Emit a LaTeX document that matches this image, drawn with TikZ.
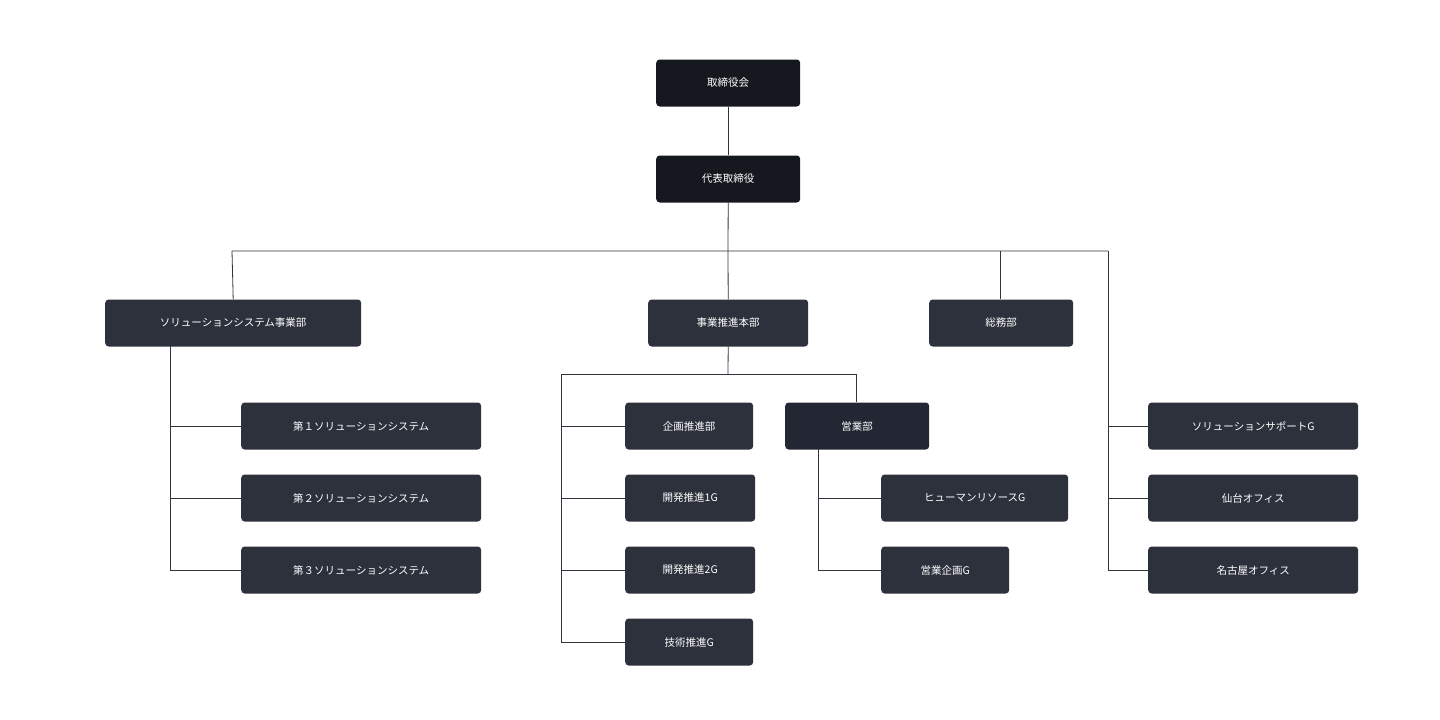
\documentclass[tikz,border=0pt]{standalone}
\usepackage{fontspec}
\setmainfont{Noto Sans CJK JP}
\definecolor{dk}{HTML}{16181F}
\definecolor{md}{HTML}{2C313C}
\definecolor{sd}{HTML}{222733}
\definecolor{ln}{HTML}{30343C}
\begin{document}
\begin{tikzpicture}[x=1pt,y=-1pt,
  box/.style={fill=md,rounded corners=3.5pt,text=white,font=\fontsize{10.5}{12}\selectfont,minimum height=47pt,inner sep=0pt,anchor=west},
  ln/.style={draw=ln,line width=0.8pt}]
\useasboundingbox (0,0) rectangle (1440,720);
\node[box,fill=dk,minimum width=144pt] (a) at (656,83) {取締役会};
\node[box,fill=dk,minimum width=144pt] (b) at (656,179) {代表取締役};
\node[box,minimum width=256pt] (s) at (105,323) {ソリューションシステム事業部};
\node[box,minimum width=160pt] (j) at (648,323) {事業推進本部};
\node[box,minimum width=144pt] (g) at (929,323) {総務部};
\node[box,minimum width=240pt] (s1) at (241,426) {第１ソリューションシステム};
\node[box,minimum width=240pt] (s2) at (241,498) {第２ソリューションシステム};
\node[box,minimum width=240pt] (s3) at (241,570) {第３ソリューションシステム};
\node[box,minimum width=128pt] (k1) at (625,426) {企画推進部};
\node[box,minimum width=130pt] (k2) at (625,498) {開発推進1G};
\node[box,minimum width=130pt] (k3) at (625,570) {開発推進2G};
\node[box,minimum width=128pt] (k4) at (625,642) {技術推進G};
\node[box,fill=sd,minimum width=144pt] (e) at (785,426) {営業部};
\node[box,minimum width=187pt] (e1) at (881,498) {ヒューマンリソースG};
\node[box,minimum width=128pt] (e2) at (881,570) {営業企画G};
\node[box,minimum width=210pt] (r1) at (1148,426) {ソリューションサポートG};
\node[box,minimum width=210pt] (r2) at (1148,498) {仙台オフィス};
\node[box,minimum width=210pt] (r3) at (1148,570) {名古屋オフィス};
\coordinate (h) at (728,251);
\coordinate (m) at (728,374);
\coordinate (rt) at (1108,251);
\draw[ln] (a) -- (b);
\draw[ln] (b.south) -- (h);
\draw[ln] (s.north) -- (232,251) -- (rt);
\draw[ln] (h) -- (j.north);
\draw[ln] (1000,251) -- (1000,299);
\draw[ln] (rt) -- (1108,570) -- (r3.west);
\draw[ln] (1108,426) -- (r1.west);
\draw[ln] (1108,498) -- (r2.west);
\draw[ln] (170,346) -- (170,570) -- (s3.west);
\draw[ln] (170,426) -- (s1.west);
\draw[ln] (170,498) -- (s2.west);
\draw[ln] (j.south) -- (m);
\draw[ln] (856,402) -- (856,374) -- (561,374) -- (561,642) -- (k4.west);
\draw[ln] (561,426) -- (k1.west);
\draw[ln] (561,498) -- (k2.west);
\draw[ln] (561,570) -- (k3.west);
\draw[ln] (818,449) -- (818,570) -- (e2.west);
\draw[ln] (818,498) -- (e1.west);
\end{tikzpicture}
\end{document}
